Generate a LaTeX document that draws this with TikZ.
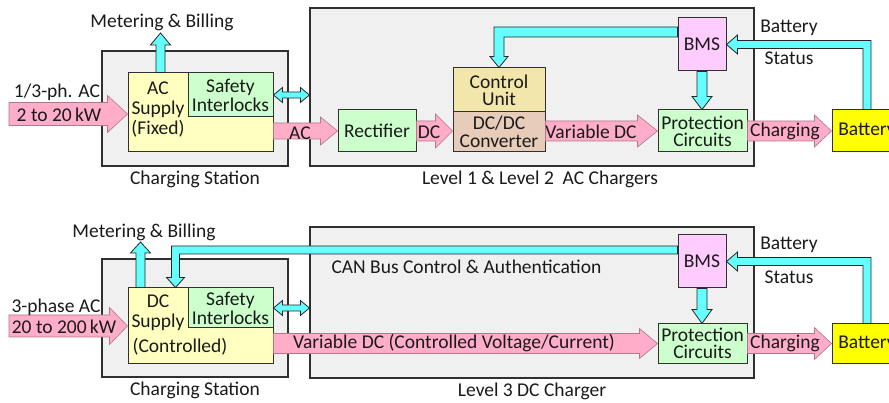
\documentclass[tikz,border=0pt]{standalone}
\usepackage{fontspec}
\setmainfont{Carlito}
\usetikzlibrary{calc, positioning}

\definecolor{panelgray}{HTML}{F0F0F0}
\definecolor{edgegray}{HTML}{303030}
\definecolor{textblack}{HTML}{1A1A1A}
\definecolor{supplyyellow}{HTML}{FFFFC0}
\definecolor{safetygreen}{HTML}{CCFFCC}
\definecolor{controltan}{HTML}{F3E6AA}
\definecolor{convbrown}{HTML}{E8CCBA}
\definecolor{bmspink}{HTML}{FFCCFF}
\definecolor{battyellow}{HTML}{FFFF00}
\definecolor{powerpink}{HTML}{FFADC8}
\definecolor{pinkedge}{HTML}{B07888}
\definecolor{signalcyan}{HTML}{66FFFF}

\tikzset{
  panel/.style={draw=edgegray, fill=panelgray, line width=1.1pt, inner sep=0pt},
  block/.style={draw=edgegray, line width=1pt, inner sep=0pt, align=center},
  power/.style={draw=pinkedge, fill=powerpink, line width=0.6pt},
  signal/.style={draw=black!85, fill=signalcyan, line width=0.8pt},
}

% block arrows: [style]{from}{to}{half shaft}{half head}{head length}
\newcommand{\hblock}[6][]{%
  \path[#1] let \p1=(#2), \p2=(#3), \p3=($(#3)!#6!(#2)$) in
    (\x1,\y1+#4) -- (\x3,\y1+#4) -- (\x3,\y1+#5) -- (\x2,\y1)
    -- (\x3,\y1-#5) -- (\x3,\y1-#4) -- (\x1,\y1-#4) -- cycle;}
\newcommand{\vblock}[6][]{%
  \path[#1] let \p1=(#2), \p2=(#3), \p3=($(#3)!#6!(#2)$) in
    (\x1-#4,\y1) -- (\x1-#4,\y3) -- (\x1-#5,\y3) -- (\x1,\y2)
    -- (\x1+#5,\y3) -- (\x1+#4,\y3) -- (\x1+#4,\y1) -- cycle;}
\newcommand{\dblock}[6][]{%
  \path[#1] let \p1=(#2), \p2=(#3), \p3=($(#2)!#6!(#3)$), \p4=($(#3)!#6!(#2)$) in
    (\x1,\y1) -- (\x3,\y1+#5) -- (\x3,\y1+#4) -- (\x4,\y1+#4) -- (\x4,\y1+#5)
    -- (\x2,\y1) -- (\x4,\y1-#5) -- (\x4,\y1-#4) -- (\x3,\y1-#4) -- (\x3,\y1-#5) -- cycle;}
% left then down
\newcommand{\elbowdown}[6][]{%
  \path[#1] let \p1=(#2), \p2=(#3), \p3=($(#3)!#6!(\x2,\y1)$) in
    (\x1,\y1+#4) -- (\x2-#4,\y1+#4) -- (\x2-#4,\y3) -- (\x2-#5,\y3) -- (\x2,\y2)
    -- (\x2+#5,\y3) -- (\x2+#4,\y3) -- (\x2+#4,\y1-#4) -- (\x1,\y1-#4) -- cycle;}
% up then left
\newcommand{\elbowleft}[6][]{%
  \path[#1] let \p1=(#2), \p2=(#3), \p3=($(#3)!#6!(\x1,\y2)$) in
    (\x1-#4,\y1) -- (\x1-#4,\y2-#4) -- (\x3,\y2-#4) -- (\x3,\y2-#5) -- (\x2,\y2)
    -- (\x3,\y2+#5) -- (\x3,\y2+#4) -- (\x1+#4,\y2+#4) -- (\x1+#4,\y1) -- cycle;}

\begin{document}
\begin{tikzpicture}[x=1pt, y=-1pt, line join=miter,
    every node/.style={font=\fontsize{19.5}{19}\selectfont, text=textblack}]
  \path[use as bounding box, clip] (0,0) rectangle (889,403);

  % ---------- Level 1 & Level 2 AC chargers ----------
  % Draw the panels
  \node[panel, minimum width=186pt, minimum height=115pt] (station1) at (195,108.5) {};
  \node[panel, minimum width=444pt, minimum height=158pt] (charger1) at (532,87) {};
  \node[below=1pt of station1] (station1-lbl) {Charging Station};
  \node[below=1pt of charger1, xshift=8pt] (charger1-lbl) {Level 1 \& Level 2 \ AC Chargers};

  % Draw the blocks
  \node[block, fill=supplyyellow, minimum width=145pt, minimum height=79pt] (supply1) at (200.5,112.5) {};
  \node[block, fill=safetygreen, minimum width=85pt, minimum height=44pt] (safety1) at (230.5,95) {Safety\\Interlocks};
  \node[align=center, font=\fontsize{19.5}{20}\selectfont] (supply1-txt) at (158,110) {AC\\Supply\\(Fixed)};
  \node[block, fill=safetygreen, minimum width=78pt, minimum height=42pt] (rect1) at (377,131) {Rectifier};
  \node[block, fill=controltan, minimum width=92pt, minimum height=44pt, font=\fontsize{19.5}{17}\selectfont] (control1) at (499,90) {Control\\Unit};
  \node[block, fill=convbrown, minimum width=92pt, minimum height=40pt, font=\fontsize{19.5}{18}\selectfont] (conv1) at (499,132) {DC/DC\\Converter};
  \node[block, fill=bmspink, minimum width=48pt, minimum height=53pt] (bms1) at (702,44.5) {BMS};
  \node[block, fill=safetygreen, minimum width=89pt, minimum height=42pt, font=\fontsize{19.5}{17}\selectfont] (prot1) at (702.5,131) {Protection\\Circuits};
  \node[block, fill=battyellow, minimum width=70pt, minimum height=42pt] (batt1) at (867,131) {Battery};

  % Draw the power flow
  \coordinate (in1) at (9,114);
  \coordinate (in1-end) at (in1 -| supply1.west);
  \coordinate (ac1) at (supply1.east |- rect1.west);
  \coordinate (dc1) at (conv1.west |- rect1.east);
  \coordinate (vdc1) at (conv1.east |- prot1.west);
  \hblock[power]{in1}{in1-end}{11.5pt}{18.5pt}{20pt}
  \hblock[power]{ac1}{rect1.west}{8pt}{14pt}{17pt}
  \hblock[power]{rect1.east}{dc1}{10pt}{17pt}{17pt}
  \hblock[power]{vdc1}{prot1.west}{10pt}{16pt}{20pt}
  \hblock[power]{prot1.east}{batt1.west}{10pt}{16pt}{17pt}

  % Draw the signal paths
  \coordinate (meter1) at ($(supply1.north west)+(33,0)$);
  \coordinate (meter1-tip) at (161,33);
  \coordinate (cu-in) at ($(bms1.west)+(0,-12.5)$);
  \vblock[signal]{meter1}{meter1-tip}{4.5pt}{10pt}{12pt}
  \dblock[signal]{safety1.east}{safety1.east -| charger1.west}{3pt}{7.5pt}{9pt}
  \elbowdown[signal]{cu-in}{control1.north}{5pt}{9pt}{11pt}
  \vblock[signal]{bms1.south}{prot1.north}{5pt}{10pt}{13pt}
  \elbowleft[signal]{batt1.north}{bms1.east}{4pt}{9.5pt}{11pt}

  % Draw the labels
  \node (meter1-lbl) at (162,22) {Metering \& Billing};
  \node (in1-lbl) at (57,92) {1/3-ph. AC};
  \node (in1-txt) at (59,115) {2 to 20\,kW};
  \node (ac1-txt) at (300,133) {AC};
  \node (dc1-txt) at (429,132) {DC};
  \node (vdc1-txt) at (591,132) {Variable DC};
  \node (chg1-txt) at (785,131) {Charging};
  \node (stat1-top) at (789,28) {Battery};
  \node (stat1-bot) at (789,58) {Status};

  % ---------- Level 3 DC charger ----------
  % Draw the panels
  \node[panel, minimum width=186pt, minimum height=118pt] (station2) at (195,318) {};
  \node[panel, minimum width=444pt, minimum height=151pt] (charger2) at (532,302.5) {};
  \node[below=1pt of station2] (station2-lbl) {Charging Station};
  \node[below=1pt of charger2] (charger2-lbl) {Level 3 DC Charger};
  \node[anchor=west] (can-lbl) at (328,267) {CAN Bus Control \& Authentication};

  % Draw the blocks
  \node[block, fill=supplyyellow, minimum width=145pt, minimum height=75pt] (supply2) at (200.5,325.5) {};
  \node[block, fill=safetygreen, minimum width=85pt, minimum height=40pt] (safety2) at (230.5,308) {Safety\\Interlocks};
  \node[align=center, font=\fontsize{19.5}{20}\selectfont] (supply2-txt) at (158,313) {DC\\Supply};
  \node (supply2-sub) at (180,347) {(Controlled)};
  \node[block, fill=bmspink, minimum width=48pt, minimum height=53pt] (bms2) at (702,261.5) {BMS};
  \node[block, fill=safetygreen, minimum width=89pt, minimum height=39pt, font=\fontsize{19.5}{16.5}\selectfont] (prot2) at (702.5,343.5) {Protection\\Circuits};
  \node[block, fill=battyellow, minimum width=70pt, minimum height=39pt] (batt2) at (867,343.5) {Battery};

  % Draw the power flow
  \coordinate (in2) at (9,326);
  \coordinate (in2-end) at (in2 -| supply2.west);
  \coordinate (vdc2) at (supply2.east |- prot2.west);
  \hblock[power]{in2}{in2-end}{11pt}{18.5pt}{18pt}
  \hblock[power]{vdc2}{prot2.west}{10pt}{15pt}{18pt}
  \hblock[power]{prot2.east}{batt2.west}{10pt}{16pt}{17pt}

  % Draw the signal paths
  \coordinate (meter2) at ($(supply2.north west)+(13,0)$);
  \coordinate (meter2-tip) at (141,242);
  \coordinate (ds-in) at ($(supply2.north west)+(48,0)$);
  \coordinate (bus-out) at ($(bms2.west)+(0,-11.5)$);
  \vblock[signal]{meter2}{meter2-tip}{4.5pt}{10pt}{11pt}
  \dblock[signal]{safety2.east}{safety2.east -| charger2.west}{3pt}{7.5pt}{9pt}
  \elbowdown[signal]{bus-out}{ds-in}{4pt}{9pt}{10pt}
  \vblock[signal]{bms2.south}{prot2.north}{5pt}{10pt}{14pt}
  \elbowleft[signal]{batt2.north}{bms2.east}{4pt}{9.5pt}{11pt}

  % Draw the labels
  \node (meter2-lbl) at (144,232) {Metering \& Billing};
  \node (in2-lbl) at (56,307) {3-phase AC};
  \node (in2-txt) at (64,327) {20 to 200\,kW};
  \node (vdc2-txt) at (454,343) {Variable DC (Controlled Voltage/Current)};
  \node (chg2-txt) at (785,343) {Charging};
  \node (stat2-top) at (789,245) {Battery};
  \node (stat2-bot) at (789,277) {Status};
\end{tikzpicture}
\end{document}
